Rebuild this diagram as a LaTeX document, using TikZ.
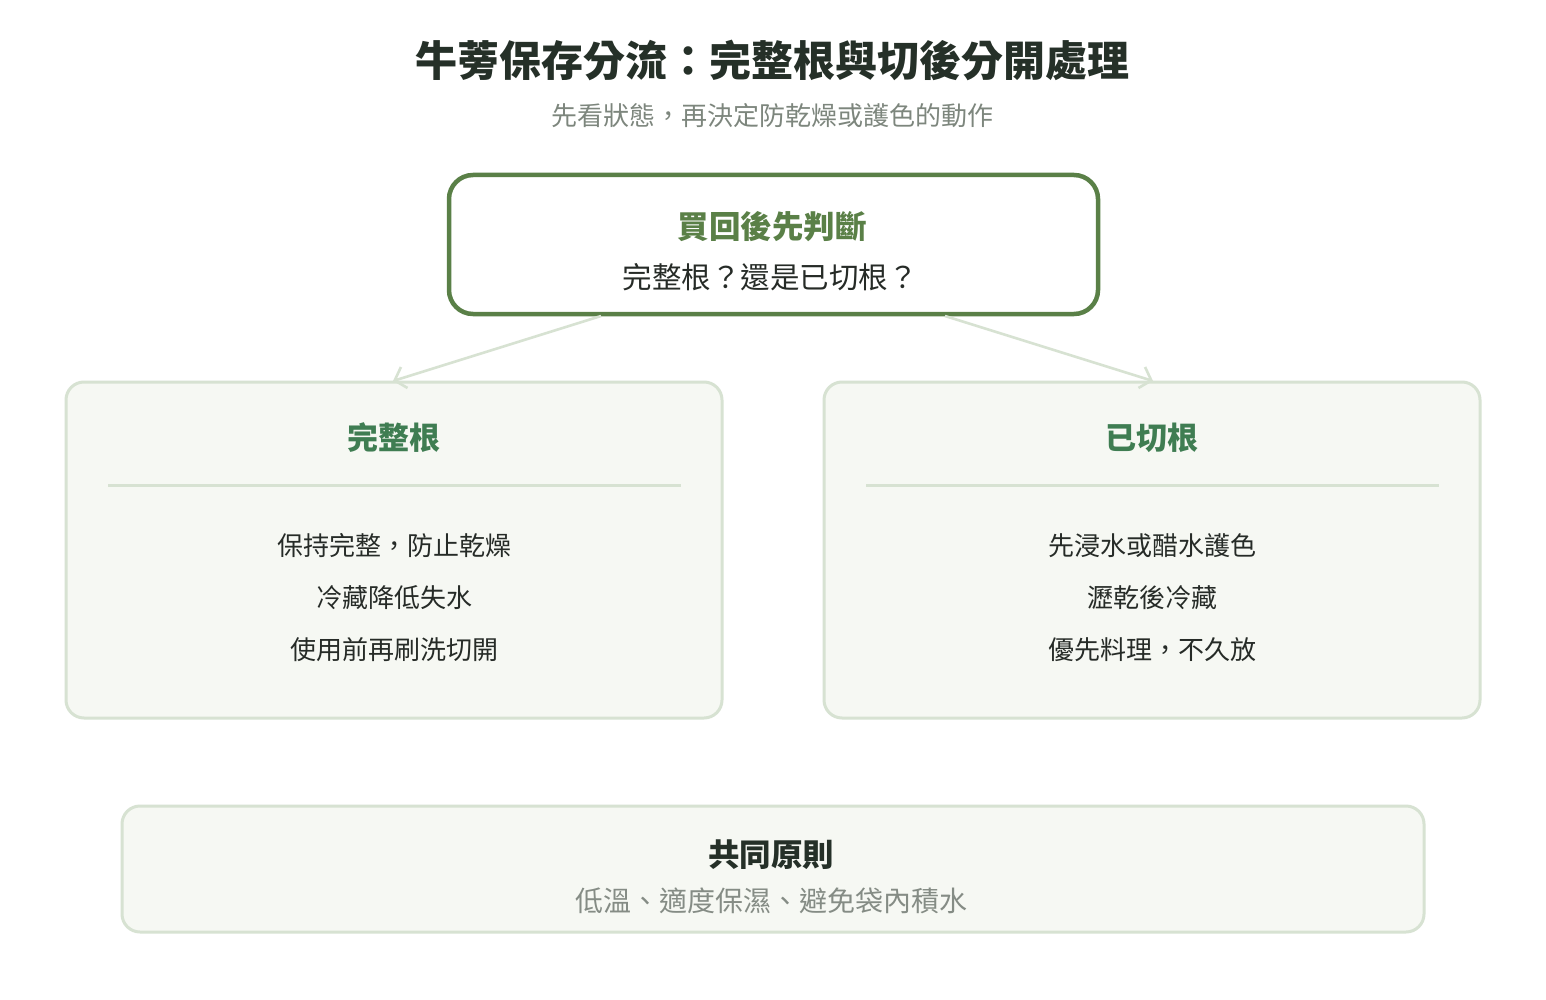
\documentclass[tikz,border=0pt]{standalone}
\usepackage{fontspec}
\setmainfont{Noto Sans CJK TC}
\usetikzlibrary{arrows.meta}
\definecolor{titlec}{HTML}{253028}
\definecolor{subc}{HTML}{7D867D}
\definecolor{topborder}{HTML}{5A8047}
\definecolor{headc}{HTML}{3F7D52}
\definecolor{boxborder}{HTML}{D7E2D2}
\definecolor{boxfill}{HTML}{F6F8F3}
\definecolor{textc}{HTML}{262B27}
\definecolor{grayc}{HTML}{858C85}
\tikzset{
  panel/.style={draw=boxborder, line width=3pt, fill=boxfill, rounded corners=18pt},
  conn/.style={draw=boxborder, line width=2.6pt, -{Straight Barb[length=10pt,width=22pt,line width=2.6pt]}},
  txt/.style={inner sep=0pt, anchor=center},
}
\begin{document}
\begin{tikzpicture}[x=1pt,y=-1pt]
\useasboundingbox[fill=white] (0,0) rectangle (1546,1000);
% title
\node[txt, text=titlec, font={\fontsize{42}{48}\selectfont\bfseries}] (title) at (772,60) {牛蒡保存分流：完整根與切後分開處理};
\node[txt, text=subc, font={\fontsize{26}{32}\selectfont}] (sub) at (772,116) {先看狀態，再決定防乾燥或護色的動作};
% top box
\draw[draw=topborder, line width=4.5pt, fill=white, rounded corners=24pt] (449,175) rectangle (1098,314);
\node[txt, text=topborder, font={\fontsize{31.5}{36}\selectfont\bfseries}] (q1) at (772,227) {買回後先判斷};
\node[txt, text=textc, font={\fontsize{29.5}{36}\selectfont}] (q2) at (770,277) {完整根？還是已切根？};
% left panel
\draw[panel] (66,382) rectangle (722,718);
\node[txt, text=headc, font={\fontsize{31}{36}\selectfont\bfseries}] (lh) at (394,438) {完整根};
\draw[boxborder, line width=3pt] (108,485) -- (681,485);
\node[txt, text=textc, font={\fontsize{26}{32}\selectfont}] (l1) at (394,546) {保持完整，防止乾燥};
\node[txt, text=textc, font={\fontsize{26}{32}\selectfont}] (l2) at (394,598) {冷藏降低失水};
\node[txt, text=textc, font={\fontsize{26}{32}\selectfont}] (l3) at (394,650) {使用前再刷洗切開};
% right panel
\draw[panel] (824,382) rectangle (1480,718);
\node[txt, text=headc, font={\fontsize{31}{36}\selectfont\bfseries}] (rh) at (1152,438) {已切根};
\draw[boxborder, line width=3pt] (866,485) -- (1439,485);
\node[txt, text=textc, font={\fontsize{26}{32}\selectfont}] (r1) at (1152,546) {先浸水或醋水護色};
\node[txt, text=textc, font={\fontsize{26}{32}\selectfont}] (r2) at (1152,598) {瀝乾後冷藏};
\node[txt, text=textc, font={\fontsize{26}{32}\selectfont}] (r3) at (1152,650) {優先料理，不久放};
% connectors
\coordinate (s1) at (601,316);
\coordinate (e1) at (393,381);
\coordinate (s2) at (945,316);
\coordinate (e2) at (1153,381);
\draw[conn] (s1) -- (e1);
\draw[conn] (s2) -- (e2);
% bottom panel
\draw[panel] (122,806) rectangle (1424,932);
\node[txt, text=titlec, font={\fontsize{31.5}{36}\selectfont\bfseries}] (bh) at (771,855) {共同原則};
\node[txt, text=grayc, font={\fontsize{28}{34}\selectfont}] (bt) at (771,901) {低溫、適度保濕、避免袋內積水};
\end{tikzpicture}
\end{document}
